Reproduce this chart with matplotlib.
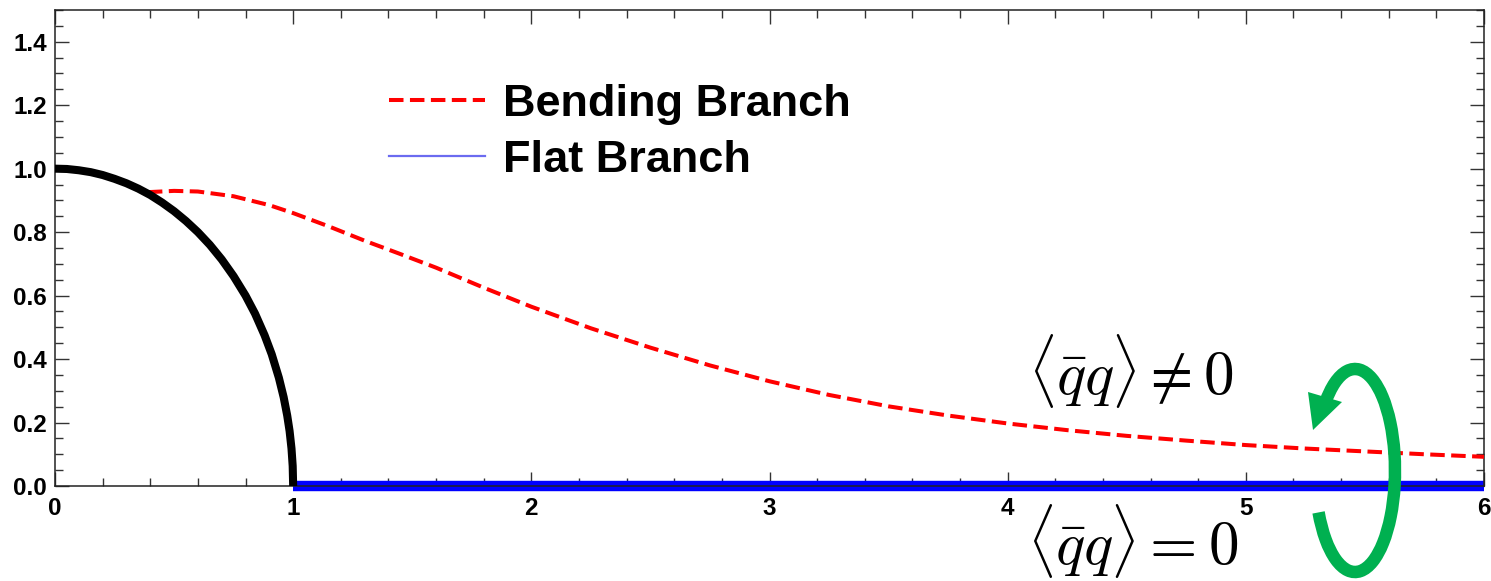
import numpy as np
import matplotlib.pyplot as plt
from matplotlib.lines import Line2D
from matplotlib.patches import Arc, Polygon
from matplotlib.ticker import MultipleLocator

plt.rcParams['font.family'] = ['Liberation Sans', 'DejaVu Sans']
plt.rcParams['mathtext.fontset'] = 'cm'

# chiral circle (black) branch
circle_x = [0.0, 0.05, 0.1, 0.15, 0.2, 0.25, 0.3, 0.35, 0.4, 0.45, 0.5, 0.55, 0.6, 0.65,
            0.7, 0.75, 0.8, 0.84, 0.88, 0.91, 0.94, 0.96, 0.975, 0.985, 0.993, 0.998, 1.0]
circle_y = [1.0, 0.999, 0.995, 0.989, 0.980, 0.968, 0.954, 0.937, 0.917, 0.893, 0.866,
            0.835, 0.800, 0.760, 0.714, 0.661, 0.600, 0.543, 0.475, 0.415, 0.341, 0.280,
            0.222, 0.173, 0.118, 0.063, 0.0]

# bending branch
bend_x = [0.39, 0.5, 0.6, 0.75, 0.9, 1.0, 1.15, 1.3, 1.45, 1.6, 1.8, 2.0, 2.25, 2.5, 2.75,
          3.0, 3.25, 3.5, 3.75, 4.0, 4.25, 4.5, 4.75, 5.0, 5.25, 5.5, 5.75, 6.0]
bend_y = [0.926, 0.930, 0.928, 0.913, 0.885, 0.860, 0.818, 0.773, 0.731, 0.688, 0.625, 0.565,
          0.497, 0.436, 0.380, 0.330, 0.287, 0.251, 0.222, 0.197, 0.176, 0.158, 0.143, 0.129,
          0.118, 0.109, 0.100, 0.092]

# flat branch
flat_x = [1.0, 6.0]
flat_y = [0.0, 0.0]

x_ticks = [0, 1, 2, 3, 4, 5, 6]
y_ticks = [0.0, 0.2, 0.4, 0.6, 0.8, 1.0, 1.2, 1.4]

fig = plt.figure(figsize=(14.91, 5.81), dpi=100)
ax = fig.add_axes([55 / 1491, 1 - 486 / 581, (1484 - 55) / 1491, (486 - 10) / 581])

ax.plot(flat_x, flat_y, color='#0000ff', lw=7.5, solid_capstyle='butt', clip_on=False, zorder=2)
ax.plot(bend_x, bend_y, color='#ff0000', lw=2.9, dashes=(3.6, 1.6), zorder=3)
ax.plot(circle_x, circle_y, color='black', lw=5.8, zorder=4, solid_joinstyle='round')

ax.set_xlim(0, 6)
ax.set_ylim(0, 1.5)
ax.set_xticks(x_ticks)
ax.set_xticklabels([str(v) for v in x_ticks], fontweight='bold')
ax.set_yticks(y_ticks)
ax.set_yticklabels(['%.1f' % v for v in y_ticks], fontweight='bold')
ax.xaxis.set_minor_locator(MultipleLocator(0.2))
ax.yaxis.set_minor_locator(MultipleLocator(0.05))
ax.tick_params(which='both', direction='in', top=True, right=True, color='#333333', width=1)
ax.tick_params(which='major', length=10, labelsize=17.5)
ax.tick_params(which='minor', length=6)
ax.tick_params(axis='x', pad=8)
ax.tick_params(axis='y', pad=6)
for s in ax.spines.values():
    s.set_linewidth(1.1)
    s.set_color('#222222')

handles = [Line2D([], [], color='#ff0000', lw=2.9, dashes=(3.6, 1.6)),
           Line2D([], [], color='#6b6bf0', lw=1.6)]
fig.legend(handles, ['Bending Branch', 'Flat Branch'], loc='center left',
           bbox_to_anchor=(389 / 1491, 1 - 132.5 / 581), frameon=False,
           prop={'family': 'Liberation Sans', 'weight': 'bold', 'size': 32.5},
           handlelength=2.13, handletextpad=0.4, labelspacing=0.33,
           borderpad=0, borderaxespad=0)

fig.text(1028 / 1491, 1 - 371 / 581, r'$\langle \bar{q}q \rangle \neq 0$',
         fontsize=44, ha='left', va='center')
fig.text(1027 / 1491, 1 - 541 / 581, r'$\langle \bar{q}q \rangle = 0$',
         fontsize=44, ha='left', va='center')

# green circular arrow, drawn in pixel space on an overlay
over = fig.add_axes([0, 0, 1, 1], zorder=10)
over.set_xlim(0, 1491)
over.set_ylim(0, 581)
over.axis('off')
over.patch.set_alpha(0)
green = '#00b050'
over.add_patch(Arc((1355, 110.5), 80, 203, theta1=229, theta2=114,
                   color=green, lw=9))
over.add_patch(Polygon([[1308, 189], [1342, 179], [1313, 151]], closed=True,
                       color=green, lw=0))

fig.savefig('out.png', dpi=100)
